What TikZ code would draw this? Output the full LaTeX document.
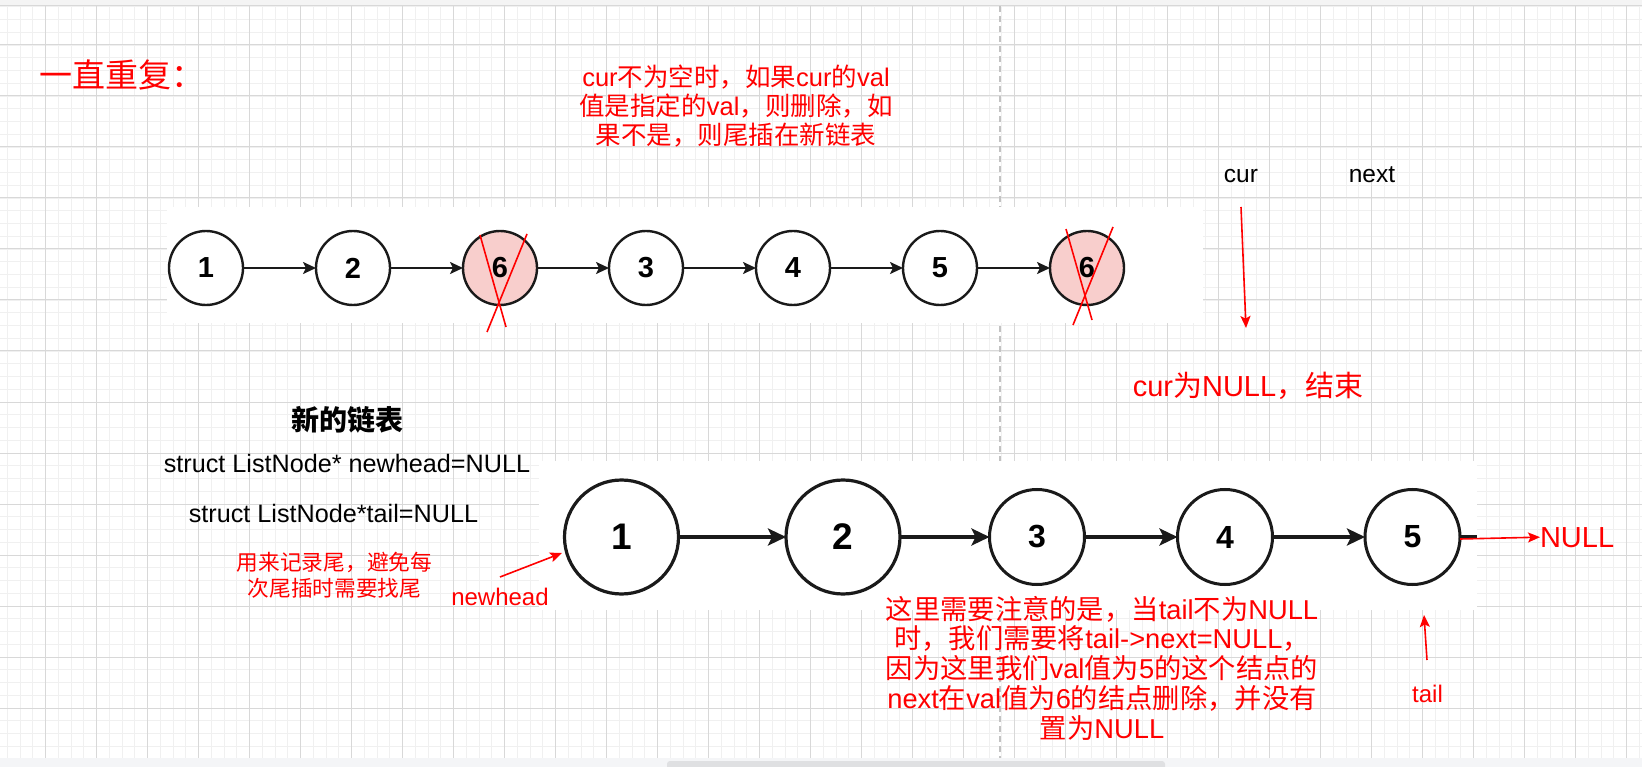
\documentclass[tikz,border=0pt]{standalone}
\usepackage{fontspec}
\setmainfont{Liberation Sans}
\newfontfamily\cjk{Noto Sans CJK SC}
\usetikzlibrary{arrows.meta}
\newcommand\zh[1]{{\cjk #1}}
\definecolor{gridmajor}{HTML}{D8D8D8}
\definecolor{gridminor}{HTML}{F0F0F0}
\definecolor{pinkfill}{HTML}{F8CECC}
\definecolor{nodeline}{HTML}{1A1A1A}
\definecolor{dashgray}{HTML}{C2C2C2}
\definecolor{topband}{HTML}{F4F4F4}
\definecolor{botband}{HTML}{F4F5F7}
\definecolor{barcol}{HTML}{DFE0E2}
\begin{document}
\begin{tikzpicture}[x=1pt,y=-1pt,
  tnode/.style={circle, draw=nodeline, line width=2.4pt, fill=white, minimum size=74pt, inner sep=0pt, outer sep=0pt, font=\fontsize{29}{30}\selectfont\bfseries},
  bnodebig/.style={circle, draw=nodeline, line width=3.2pt, fill=white, minimum size=114pt, inner sep=0pt, outer sep=0pt, font=\fontsize{37}{40}\selectfont\bfseries},
  bnodesmall/.style={circle, draw=nodeline, line width=3pt, fill=white, minimum size=95pt, inner sep=0pt, outer sep=0pt, font=\fontsize{32}{34}\selectfont\bfseries},
  tarrow/.style={draw=nodeline, line width=2.2pt, -{Stealth[length=13pt,width=12pt,inset=3pt]}},
  barrow/.style={draw=nodeline, line width=3.3pt, -{Stealth[length=18pt,width=17pt,inset=4pt]}},
  rarrow/.style={draw=red, line width=1.6pt, -{Stealth[length=12pt,width=10pt,inset=2.5pt]}},
  cross/.style={draw=red, line width=1.6pt},
  txt/.style={inner sep=0pt, outer sep=0pt},
]
\useasboundingbox (0,0) rectangle (1642,767);
% background
\fill[white] (0,0) rectangle (1642,767);
\fill[topband] (0,0) rectangle (1642,5.5);
% grid
\foreach \i in {0,...,129} {\draw[gridminor, line width=0.9pt] ({-5.5+12.75*\i},6) -- ({-5.5+12.75*\i},758);}
\foreach \j in {1,...,59} {\draw[gridminor, line width=0.9pt] (0,{-6+12.75*\j}) -- (1642,{-6+12.75*\j});}
\foreach \i in {0,...,31} {\draw[gridmajor, line width=1pt] ({45.5+51*\i},6) -- ({45.5+51*\i},758);}
\foreach \j in {0,...,13} {\draw[gridmajor, line width=1pt] (0,{45+51*\j}) -- (1642,{45+51*\j});}
\draw[gridmajor, line width=1pt] (0,5.8) -- (1642,5.8);
\fill[botband] (0,758) rectangle (1642,767);
\fill[barcol, rounded corners=3pt] (667,761) rectangle (1165,770);
% page break
\draw[dashgray, line width=1.8pt, dash pattern=on 6pt off 4pt] (1000,6) -- (1000,758);
% white image areas
\fill[white] (167,207) rectangle (1203,323);
\fill[white] (539,461) rectangle (1477,610);

% title
\node[txt, anchor=west, text=red, font=\fontsize{33}{36}\selectfont\cjk] (title) at (39,75) {一直重复：};
% top note
\node[txt, text=red, align=center, font=\fontsize{25.5}{29}\selectfont] (note1) at (736,106)
  {cur\zh{不为空时，如果}cur\zh{的}val\\\zh{值是指定的}val\zh{，则删除，如}\\\zh{果不是，则尾插在新链表}};

% top list
\node[tnode] (t1) at (206,268) {1};
\node[tnode] (t2) at (353,268) {2};
\node[tnode, fill=pinkfill] (t3) at (500,268) {6};
\node[tnode] (t4) at (646,268) {3};
\node[tnode] (t5) at (793,268) {4};
\node[tnode] (t6) at (940,268) {5};
\node[tnode, fill=pinkfill] (t7) at (1087,268) {6};
\draw[tarrow] (t1) -- (t2);
\draw[tarrow] (t2) -- (t3);
\draw[tarrow] (t3) -- (t4);
\draw[tarrow] (t4) -- (t5);
\draw[tarrow] (t5) -- (t6);
\draw[tarrow] (t6) -- (t7);
% crosses
\coordinate (xa1) at (480,235); \coordinate (xa2) at (506,327);
\coordinate (xb1) at (527,234); \coordinate (xb2) at (487,332);
\coordinate (xc1) at (1066,229); \coordinate (xc2) at (1092,320);
\coordinate (xd1) at (1113,227); \coordinate (xd2) at (1073,325);
\draw[cross] (xa1) -- (xa2);
\draw[cross] (xb1) -- (xb2);
\draw[cross] (xc1) -- (xc2);
\draw[cross] (xd1) -- (xd2);

% cur / next
\node[txt, anchor=base, font=\fontsize{24.5}{28}\selectfont] (curlbl) at (1241,183) {cur};
\node[txt, anchor=base, font=\fontsize{24.5}{28}\selectfont] (nextlbl) at (1372,183) {next};
\coordinate (curA) at (1241,207);
\coordinate (curB) at (1246,328);
\draw[rarrow] (curA) -- (curB);
\node[txt, text=red, font=\fontsize{29}{32}\selectfont] (endlbl) at (1248,386) {cur\zh{为}NULL\zh{，结束}};

% left texts
\node[txt, font=\fontsize{28}{30}\selectfont\cjk\bfseries] (newlist) at (347.5,420) {新的链表};
\node[txt, anchor=base, font=\fontsize{25.2}{28}\selectfont] (decl1) at (347,472) {struct ListNode* newhead=NULL};
\node[txt, anchor=base, font=\fontsize{25.2}{28}\selectfont] (decl2) at (333.5,522.5) {struct ListNode*tail=NULL};
\node[txt, text=red, align=center, font=\fontsize{21.7}{26}\selectfont\cjk] (tailnote) at (334.5,575) {用来记录尾，避免每\\次尾插时需要找尾};
\node[txt, anchor=base, text=red, font=\fontsize{24}{28}\selectfont] (newheadlbl) at (500,605) {newhead};

% bottom list
\node[bnodebig] (b1) at (621.5,537) {1};
\node[bnodebig] (b2) at (843,537) {2};
\node[bnodesmall] (b3) at (1037,537) {3};
\node[bnodesmall] (b4) at (1225,537) {4};
\node[bnodesmall] (b5) at (1412.5,537) {5};
\draw[barrow] (b1) -- (b2);
\draw[barrow] (b2) -- (b3);
\draw[barrow] (b3) -- (b4);
\draw[barrow] (b4) -- (b5);
\coordinate (stub) at (1477,537);
\draw[draw=nodeline, line width=3.3pt] (b5.east) -- (stub);

% newhead arrow
\coordinate (nhA) at (500,577);
\coordinate (nhB) at (562,553);
\draw[rarrow] (nhA) -- (nhB);

% NULL
\node[txt, anchor=base west, text=red, font=\fontsize{29}{32}\selectfont] (nulllbl) at (1540,547) {NULL};
\coordinate (nullA) at (1460,539);
\draw[rarrow] (nullA) -- (nulllbl.west);

% tail
\node[txt, anchor=base, text=red, font=\fontsize{24}{28}\selectfont] (taillbl) at (1427.5,702) {tail};
\coordinate (tailA) at (1427,660);
\coordinate (tailB) at (1424,615);
\draw[rarrow] (tailA) -- (tailB);

% bottom note
\node[txt, text=red, align=center, font=\fontsize{27.3}{29.7}\selectfont] (note2) at (1102,668)
  {\zh{这里需要注意的是，当}tail\zh{不为}NULL\\
   \zh{时，我们需要将}tail->next=NULL\zh{，}\\
   \zh{因为这里我们}val\zh{值为}5\zh{的这个结点的}\\
   next\zh{在}val\zh{值为}6\zh{的结点删除，并没有}\\
   \zh{置为}NULL};
\end{tikzpicture}
\end{document}
